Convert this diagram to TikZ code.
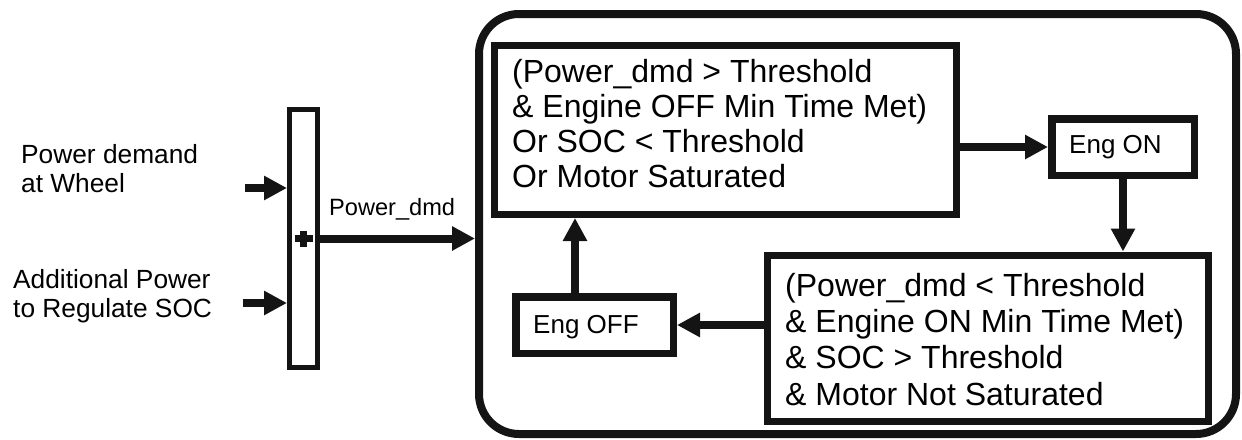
\documentclass[tikz,border=0pt]{standalone}
\usepackage{fontspec}
\setmainfont{Liberation Sans}
\usetikzlibrary{arrows.meta}
\tikzset{
  box/.style={draw=black!92, line width=7pt, inner sep=0pt, fill=white},
  txt/.style={inner sep=0pt, anchor=base west, align=left},
  lbltxt/.style={txt, font=\fontsize{26.3}{29}\selectfont},
  arr/.style={draw=black!92, line width=8pt, -{Triangle[length=23pt,width=23pt]}},
}
\begin{document}
\begin{tikzpicture}[x=1pt,y=-1pt]
\useasboundingbox (0,0) rectangle (1242,439);
% outer rounded system box
\node[draw=black!92, line width=8pt, rounded corners=40pt, minimum width=757pt, minimum height=420pt, inner sep=0pt] (sys) at (857.5,224) {};
% summing block
\node[draw=black!92, line width=5pt, minimum width=28pt, minimum height=258pt, inner sep=0pt] (sum) at (303.5,238.5) {};
\draw[black!92, line width=7.5pt] ([xshift=-8.5pt]sum.center) -- ([xshift=9.5pt]sum.center);
\draw[black!92, line width=7pt] ([yshift=-8pt]sum.center) -- ([yshift=8pt]sum.center);
% input labels (anchor = baseline of last line)
\node[lbltxt] (l1) at (21,192) {Power demand\\at Wheel};
\node[lbltxt] (l2) at (13,317) {Additional Power\\to Regulate SOC};
\coordinate (in1) at (245,188);
\coordinate (in2) at (243,303);
\draw[arr] (in1) -- (in1 -| sum.west);
\draw[arr] (in2) -- (in2 -| sum.west);
% output
\draw[arr] (sum.east) -- (sum.east -| sys.west);
\node[txt, font=\fontsize{23.6}{26}\selectfont] (pd) at (329,215) {Power\_dmd};
% condition boxes
\node[box, minimum width=462pt, minimum height=169pt] (c1) at (725.5,130) {};
\node[txt, font=\fontsize{32}{34.7}\selectfont] (t1) at (512,187) {(Power\_dmd > Threshold\\\& Engine OFF Min Time Met)\\Or SOC < Threshold\\Or Motor Saturated};
\node[box, minimum width=441pt, minimum height=166.5pt] (c2) at (988,338.25) {};
\node[txt, font=\fontsize{32}{36.3}\selectfont] (t2) at (785,405) {(Power\_dmd < Threshold\\\& Engine ON Min Time Met)\\\& SOC > Threshold\\\& Motor Not Saturated};
% state boxes
\node[box, line width=7.5pt, minimum width=142.5pt, minimum height=56.5pt] (on) at (1123,147) {};
\node[txt, font=\fontsize{26}{29}\selectfont] (ont) at (1069,153) {Eng ON};
\node[box, line width=7.5pt, minimum width=157.5pt, minimum height=56.5pt] (off) at (594.5,325) {};
\node[txt, font=\fontsize{26}{29}\selectfont] (offt) at (533,333) {Eng OFF};
% transitions
\draw[arr] (c1.east |- on.west) -- (on.west);
\draw[arr] (on.south) -- (on.south |- c2.north);
\draw[arr] (c2.west |- off.east) -- (off.east);
\draw[arr] ([xshift=63pt]off.north west) -- ([xshift=63pt]off.north west |- c1.south);
\end{tikzpicture}
\end{document}
